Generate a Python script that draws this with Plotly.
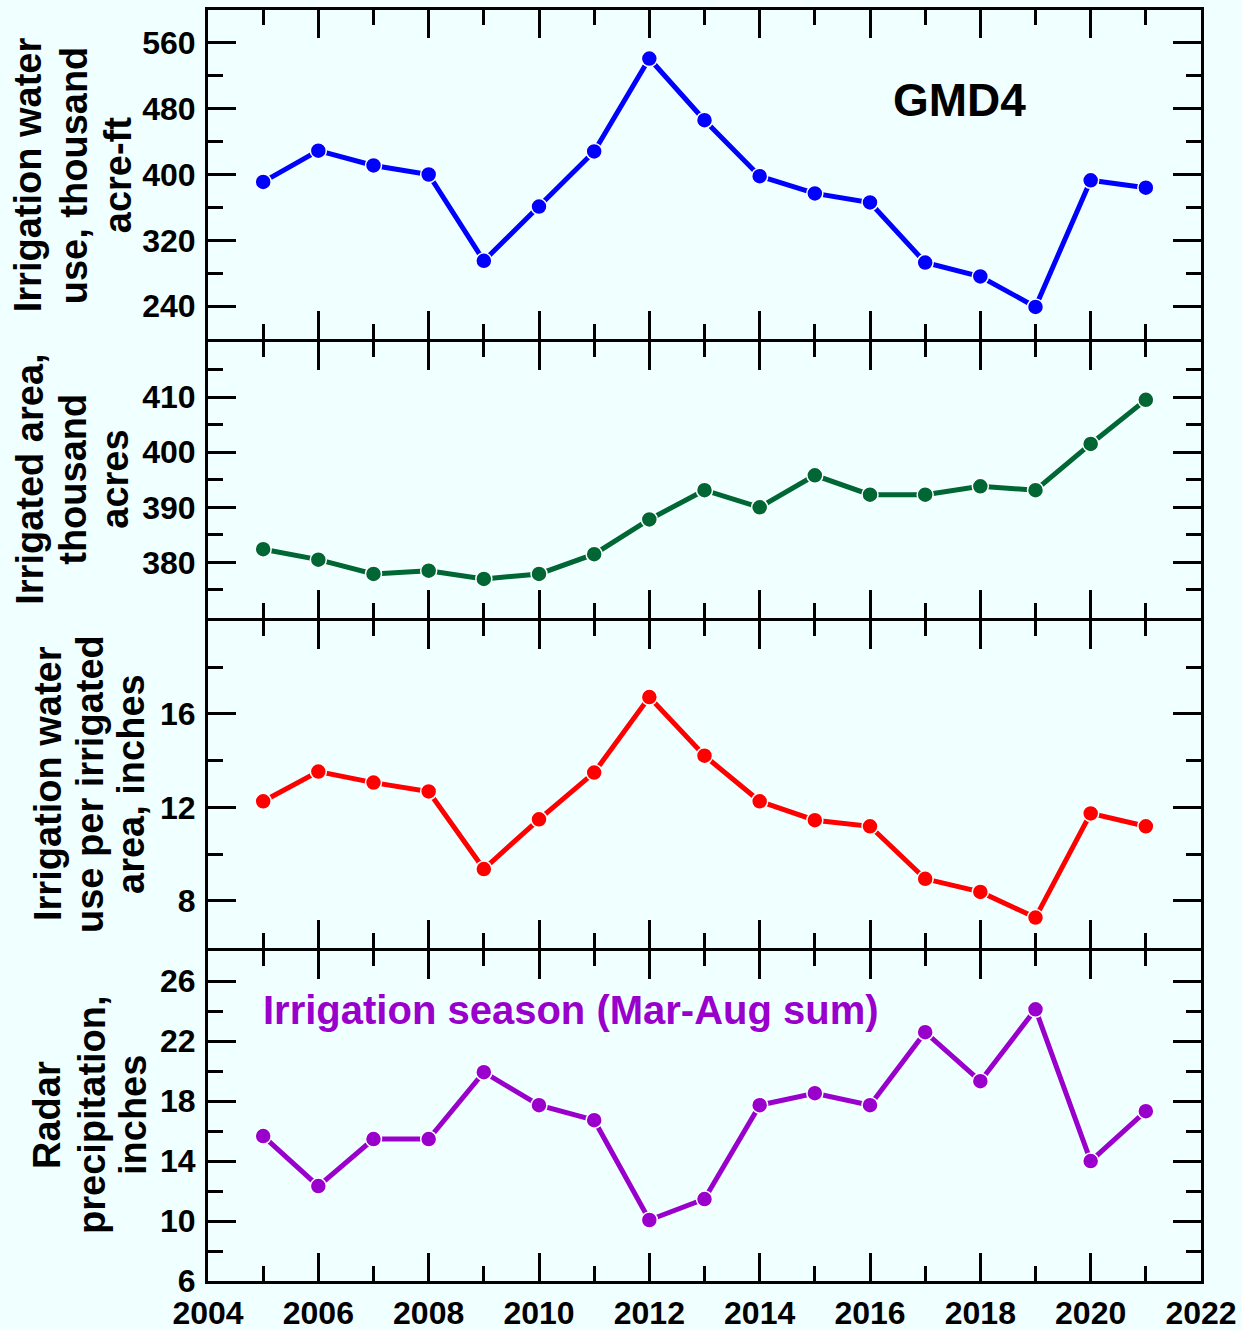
import plotly.graph_objects as go

years = list(range(2005, 2022))
water_use = [391, 429, 411, 400, 295, 361, 428, 541, 466, 398, 377, 366, 293, 276, 239, 393, 384]
irr_area = [382.4, 380.5, 377.9, 378.5, 377.0, 377.9, 381.5, 387.8, 393.1, 390.0, 395.8, 392.3, 392.3, 393.8, 393.1, 401.5, 409.5]
depth = [12.26, 13.53, 13.06, 12.68, 9.36, 11.49, 13.49, 16.72, 14.21, 12.26, 11.45, 11.19, 8.94, 8.38, 7.28, 11.74, 11.19]
precip = [15.67, 12.33, 15.47, 15.47, 19.93, 17.73, 16.73, 10.07, 11.47, 17.73, 18.53, 17.73, 22.6, 19.33, 24.13, 14.0, 17.33]

x_ticks = list(range(2004, 2023, 2))
y1_ticks = [240, 320, 400, 480, 560]
y2_ticks = [380, 390, 400, 410]
y3_ticks = [8, 12, 16]
y4_ticks = [6, 10, 14, 18, 22, 26]

title_lines = [
    ["Irrigation water", "use, thousand", "acre-ft"],
    ["Irrigated area,", "thousand", "acres"],
    ["Irrigation water", "use per irrigated", "area, inches"],
    ["Radar", "precipitation,", "inches"],
]
title_x = [
    [28, 74, 118],
    [30, 73, 115],
    [48, 90, 131],
    [47, 92, 133],
]

BG = "#F0FFFF"
FONT = "Liberation Sans, Arial, sans-serif"

W, H = 1242, 1330
L, R, T, B = 208, 1201, 10, 1281
bounds = [10, 340.5, 619, 949, 1281]
LW = 3

def ypaper(py):
    return (B - py) / (B - T)

def xpaper(px):
    return (px - L) / (R - L)

series = [
    (water_use, "#0000FF", [200, 600], y1_ticks, 40),
    (irr_area, "#006633", [370, 420], y2_ticks, 5),
    (depth, "#FF0000", [6, 20], y3_ticks, 2),
    (precip, "#9900CC", [6, 28.05], y4_ticks, 2),
]

fig = go.Figure()
layout = dict(
    width=W, height=H,
    paper_bgcolor=BG, plot_bgcolor=BG,
    margin=dict(l=L, r=W - R, t=T, b=H - B, pad=0, autoexpand=False),
    showlegend=False,
    font=dict(family=FONT, size=32, color="black"),
)

annotations = []
for i, (vals, col, rng, tv, mdt) in enumerate(series):
    n = i + 1
    xa = "x" if n == 1 else f"x{n}"
    ya = "y" if n == 1 else f"y{n}"
    fig.add_trace(go.Scatter(
        x=years, y=vals, mode="lines+markers", xaxis=xa, yaxis=ya,
        line=dict(color=col, width=5),
        marker=dict(color=col, size=16, line=dict(color="white", width=1.5)),
        cliponaxis=False,
    ))
    top_px = bounds[i] + (LW / 2 if i > 0 else 0)
    bot_px = bounds[i + 1] - (LW / 2 if i < 3 else 0)
    dom = [ypaper(bot_px), ypaper(top_px)]
    axis_common = dict(showline=True, linecolor="black", linewidth=LW, mirror="allticks",
                       ticks="inside", tickcolor="black", tickwidth=3, ticklen=28,
                       showgrid=False, zeroline=False, automargin=False,
                       ticklabeloverflow="allow",
                       tickfont=dict(family=FONT, size=32, color="black", weight="bold"))
    xkey = "xaxis" if n == 1 else f"xaxis{n}"
    ykey = "yaxis" if n == 1 else f"yaxis{n}"
    layout[xkey] = dict(
        axis_common, range=[2004, 2022], domain=[0, 1], anchor=ya,
        tickmode="array", tickvals=x_ticks, showticklabels=(n == 4),
        ticklabelstandoff=2,
        minor=dict(ticks="inside", tickmode="linear", tick0=2004, dtick=1, ticklen=15,
                   tickwidth=3, tickcolor="black", showgrid=False),
        **({} if n == 1 else {"matches": "x"}),
    )
    layout[ykey] = dict(
        axis_common, range=rng, domain=dom, anchor=xa,
        tickmode="array", tickvals=tv, ticklabelstandoff=3,
        minor=dict(ticks="inside", tickmode="linear", tick0=0, dtick=mdt, ticklen=15,
                   tickwidth=3, tickcolor="black", showgrid=False),
    )
    yc = ypaper((bounds[i] + bounds[i + 1]) / 2)
    for line_text, px in zip(title_lines[i], title_x[i]):
        annotations.append(dict(
            text=f"<b>{line_text}</b>", xref="paper", yref="paper",
            x=xpaper(px), y=yc, xanchor="center", yanchor="middle",
            textangle=-90, showarrow=False,
            font=dict(family=FONT, size=38, color="black"),
        ))

annotations.append(dict(
    text="<b>GMD4</b>", xref="paper", yref="paper", x=xpaper(959), y=ypaper(100),
    xanchor="center", yanchor="middle", showarrow=False,
    font=dict(family=FONT, size=46, color="black"),
))
annotations.append(dict(
    text="<b>Irrigation season (Mar-Aug sum)</b>", xref="paper", yref="paper",
    x=xpaper(571), y=ypaper(1010), xanchor="center", yanchor="middle", showarrow=False,
    font=dict(family=FONT, size=40, color="#9900CC"),
))
layout["annotations"] = annotations
fig.update_layout(**layout)
fig.write_html(
    "out.html",
    config={"displayModeBar": False},
    post_script="document.documentElement.style.margin='0';"
                "document.documentElement.style.padding='0';"
                "document.documentElement.style.overflow='hidden';"
                "document.body.style.margin='0';document.body.style.padding='0';"
                "document.body.style.overflow='hidden';"
                "document.body.style.background='#F0FFFF';"
                "document.documentElement.style.background='#F0FFFF';",
)
